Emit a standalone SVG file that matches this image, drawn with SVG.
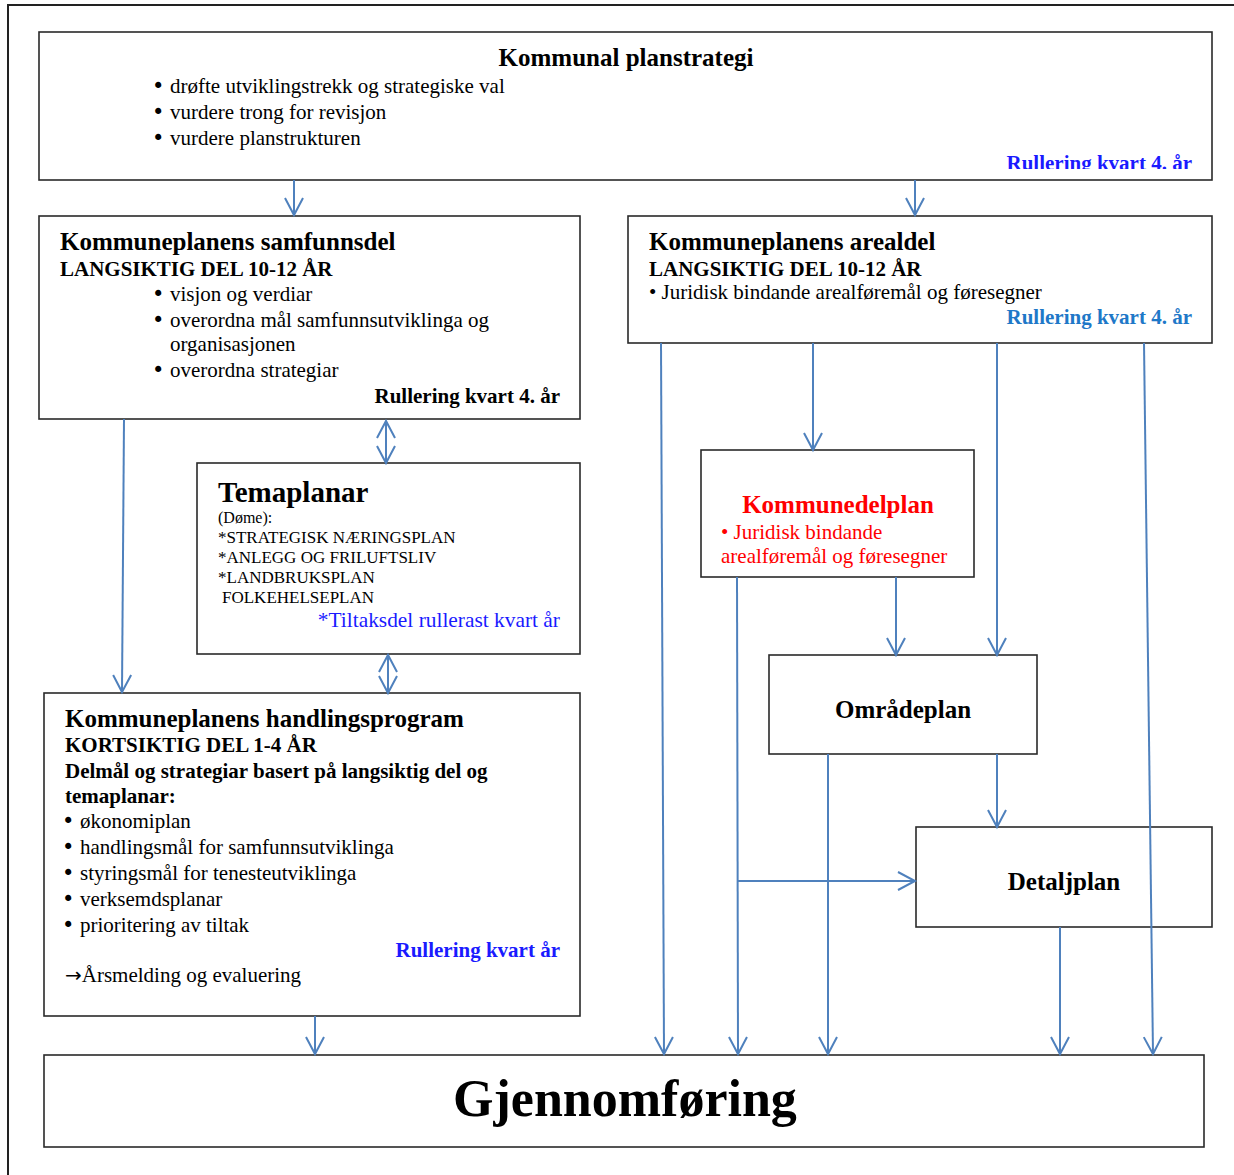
<svg xmlns="http://www.w3.org/2000/svg" width="1234" height="1175" viewBox="0 0 1234 1175">
<style>
text{font-family:"Liberation Serif","Times New Roman",serif;fill:#000}
.box{fill:#fff;stroke:#2a2a2a;stroke-width:1.6}
.t{font-size:25px;font-weight:bold}
.s{font-size:21px;font-weight:bold}
.b{font-size:21px}
.m{font-size:17px}
.bul{font-family:"DejaVu Sans",sans-serif;font-size:21px}
.blue{fill:#1a1aff}
.blue2{fill:#1e78c8}
.red{fill:#ff0000}
.e{text-anchor:end}
.c{text-anchor:middle}
.con{fill:none;stroke:#4f81bd;stroke-width:2}
</style>
<defs>
<marker id="ah" markerUnits="userSpaceOnUse" markerWidth="24" markerHeight="24" viewBox="-20 -12 24 24" refX="0" refY="0" orient="auto-start-reverse">
<path d="M-17,-9 L0,0 L-17,9" fill="none" stroke="#4f81bd" stroke-width="2"/>
</marker>
<clipPath id="clipTop"><rect x="39" y="32" width="1173" height="137"/></clipPath>
</defs>
<rect width="1234" height="1175" fill="#fff"/>
<path d="M8,1175 V5 H1234" fill="none" stroke="#222" stroke-width="2"/>

<g id="planstrategi">
<rect class="box" x="39" y="32" width="1173" height="148"/>
<text class="t c" x="626" y="66">Kommunal planstrategi</text>
<text class="bul" x="152" y="93">•</text><text class="b" x="170" y="93">drøfte utviklingstrekk og strategiske val</text>
<text class="bul" x="152" y="119">•</text><text class="b" x="170" y="119">vurdere trong for revisjon</text>
<text class="bul" x="152" y="145">•</text><text class="b" x="170" y="145">vurdere planstrukturen</text>
<text class="s e blue" x="1192" y="170" clip-path="url(#clipTop)">Rullering kvart 4. år</text>
</g>

<g id="samfunnsdel">
<rect class="box" x="39" y="216" width="541" height="203"/>
<text class="t" x="60" y="250">Kommuneplanens samfunnsdel</text>
<text class="s" x="60" y="276">LANGSIKTIG DEL 10-12 ÅR</text>
<text class="bul" x="152" y="301">•</text><text class="b" x="170" y="301">visjon og verdiar</text>
<text class="bul" x="152" y="327">•</text><text class="b" x="170" y="327">overordna mål samfunnsutviklinga og</text>
<text class="b" x="170" y="351">organisasjonen</text>
<text class="bul" x="152" y="377">•</text><text class="b" x="170" y="377">overordna strategiar</text>
<text class="s e" x="560" y="403">Rullering kvart 4. år</text>
</g>

<g id="arealdel">
<rect class="box" x="628" y="216" width="584" height="127"/>
<text class="t" x="649" y="250">Kommuneplanens arealdel</text>
<text class="s" x="649" y="276">LANGSIKTIG DEL 10-12 ÅR</text>
<text class="b" x="649" y="299">• Juridisk bindande arealføremål og føresegner</text>
<text class="s e blue2" x="1192" y="324">Rullering kvart 4. år</text>
</g>

<g id="temaplanar">
<rect class="box" x="197" y="463" width="383" height="191"/>
<text x="218" y="502" style="font-size:29px;font-weight:bold">Temaplanar</text>
<text x="218" y="523" style="font-size:16px">(Døme):</text>
<text class="m" x="218" y="543">*STRATEGISK NÆRINGSPLAN</text>
<text class="m" x="218" y="563">*ANLEGG OG FRILUFTSLIV</text>
<text class="m" x="218" y="583">*LANDBRUKSPLAN</text>
<text class="m" x="222" y="603">FOLKEHELSEPLAN</text>
<text class="e blue" x="560" y="627" style="font-size:21.4px">*Tiltaksdel rullerast kvart år</text>
</g>

<g id="handlingsprogram">
<rect class="box" x="44" y="693" width="536" height="323"/>
<text class="t" x="65" y="727">Kommuneplanens handlingsprogram</text>
<text class="s" x="65" y="752">KORTSIKTIG DEL 1-4 ÅR</text>
<text class="s" x="65" y="778">Delmål og strategiar basert på langsiktig del og</text>
<text class="s" x="65" y="803">temaplanar:</text>
<text class="bul" x="62" y="828">•</text><text class="b" x="80" y="828">økonomiplan</text>
<text class="bul" x="62" y="854">•</text><text class="b" x="80" y="854">handlingsmål for samfunnsutviklinga</text>
<text class="bul" x="62" y="880">•</text><text class="b" x="80" y="880">styringsmål for tenesteutviklinga</text>
<text class="bul" x="62" y="906">•</text><text class="b" x="80" y="906">verksemdsplanar</text>
<text class="bul" x="62" y="932">•</text><text class="b" x="80" y="932">prioritering av tiltak</text>
<text class="s e blue" x="560" y="957">Rullering kvart år</text>
<text class="b" x="65" y="982"><tspan style="font-family:'DejaVu Sans',sans-serif;font-size:20px">→</tspan>Årsmelding og evaluering</text>
</g>

<g id="kommunedelplan">
<rect class="box" x="701" y="450" width="273" height="127"/>
<text class="t c red" x="838" y="513">Kommunedelplan</text>
<text class="b red" x="721" y="539">• Juridisk bindande</text>
<text class="b red" x="721" y="563">arealføremål og føresegner</text>
</g>

<g id="omradeplan">
<rect class="box" x="769" y="655" width="268" height="99"/>
<text class="t c" x="903" y="718">Områdeplan</text>
</g>

<g id="detaljplan">
<rect class="box" x="916" y="827" width="296" height="100"/>
<text class="t c" x="1064" y="890">Detaljplan</text>
</g>

<g id="gjennomforing">
<rect class="box" x="44" y="1055" width="1160" height="92"/>
<text class="c" x="625" y="1116" style="font-size:52px;font-weight:bold">Gjennomføring</text>
</g>

<g id="connectors">
<line class="con" x1="294" y1="180" x2="294" y2="215" marker-end="url(#ah)"/>
<line class="con" x1="915" y1="180" x2="915" y2="215" marker-end="url(#ah)"/>
<line class="con" x1="124" y1="419" x2="122" y2="692" marker-end="url(#ah)"/>
<line class="con" x1="386" y1="421" x2="386" y2="463" marker-start="url(#ah)" marker-end="url(#ah)"/>
<line class="con" x1="388" y1="655" x2="388" y2="693" marker-start="url(#ah)" marker-end="url(#ah)"/>
<line class="con" x1="661" y1="343" x2="664" y2="1054" marker-end="url(#ah)"/>
<line class="con" x1="813" y1="343" x2="813" y2="450" marker-end="url(#ah)"/>
<line class="con" x1="997" y1="343" x2="997" y2="655" marker-end="url(#ah)"/>
<line class="con" x1="1144" y1="343" x2="1153" y2="1054" marker-end="url(#ah)"/>
<line class="con" x1="737" y1="577" x2="738" y2="1054" marker-end="url(#ah)"/>
<line class="con" x1="738" y1="881" x2="915" y2="881" marker-end="url(#ah)"/>
<line class="con" x1="896" y1="577" x2="896" y2="655" marker-end="url(#ah)"/>
<line class="con" x1="828" y1="754" x2="828" y2="1054" marker-end="url(#ah)"/>
<line class="con" x1="997" y1="754" x2="997" y2="827" marker-end="url(#ah)"/>
<line class="con" x1="1060" y1="927" x2="1060" y2="1054" marker-end="url(#ah)"/>
<line class="con" x1="315" y1="1016" x2="315" y2="1054" marker-end="url(#ah)"/>
</g>
</svg>
